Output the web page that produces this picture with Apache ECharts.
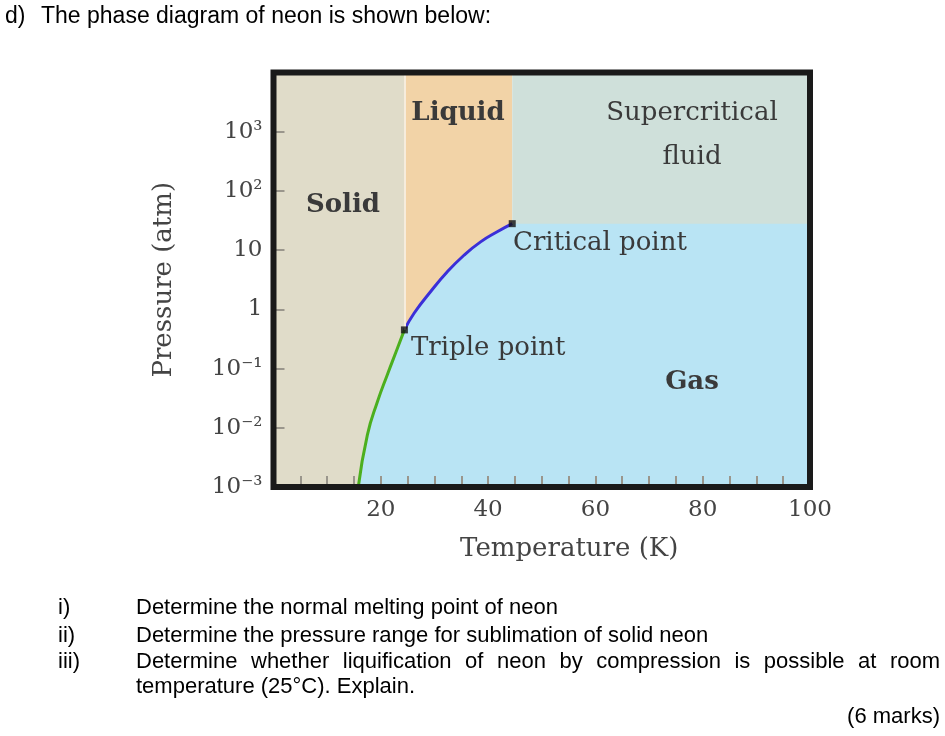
<!DOCTYPE html>
<html><head><meta charset="utf-8">
<script src="https://cdn.jsdelivr.net/npm/echarts@6/dist/echarts.min.js"></script>
<style>html,body{margin:0;padding:0;background:#fff}#c{width:945px;height:736px}</style>
</head><body><div id="c"></div>
<script>
// Phase boundaries of neon (T in K, P in atm)
const sublimationCurve = [[15.8,0.001],[17.5,0.0076],[19.4,0.028],[21.2,0.078],[23.1,0.22],[24.4,0.45]];
const vaporizationCurve = [[24.4,0.45],[26.2,0.86],[29.3,2.0],[32.4,4.3],[35.5,8.2],[38.6,13.8],[41.7,20.4],[44.5,28]];
const triplePoint = [24.4,0.45];
const criticalPoint = [44.5,28];
const tempRange = [0,100];
const pressureRange = [0.001,10000];
const xTickLabels = [20,40,60,80,100];
const yTickLabels = ['10\u207B\u00B3','10\u207B\u00B2','10\u207B\u00B9','1','10','10\u00B2','10\u00B3',''];

const gasBoundary = sublimationCurve.concat(vaporizationCurve.slice(1), [[tempRange[1], criticalPoint[1]]]);

const serif = "'DejaVu Serif', 'Liberation Serif', serif";
const sans = "'Liberation Sans', Arial, sans-serif";
const chart = echarts.init(document.getElementById('c'));

const G = {left:273.5, top:72.5, right:135, bottom:249};
const W = 945, H = 736;

// question text (justified line built word by word)
const qLines = [
  {num:'i)', text:'Determine the normal melting point of neon', y:609},
  {num:'ii)', text:'Determine the pressure range for sublimation of solid neon', y:637},
  {num:'iii)', text:'Determine whether liquification of neon by compression is possible at room', y:663, justify:true},
  {num:'', text:'temperature (25\u00B0C). Explain.', y:688}
];
const qFont = "22px " + sans;
const ctx = document.createElement('canvas').getContext('2d');
ctx.font = qFont;
const graphics = [];
graphics.push({type:'text', left:5, top:5, style:{text:'d)', font:"23px " + sans, fill:'#000'}});
graphics.push({type:'text', left:41, top:5, style:{text:'The phase diagram of neon is shown below:', font:"23px " + sans, fill:'#000'}});
qLines.forEach(function(l){
  if (l.num) graphics.push({type:'text', left:58, top:l.y-12, style:{text:l.num, font:qFont, fill:'#000'}});
  if (l.justify) {
    const words = l.text.split(' ');
    const widths = words.map(w => ctx.measureText(w).width);
    const total = widths.reduce((a,b)=>a+b,0);
    const gap = (940 - 136 - total) / (words.length - 1);
    let x = 136;
    words.forEach(function(w,i){
      graphics.push({type:'text', left:x, top:l.y-12, style:{text:w, font:qFont, fill:'#000'}});
      x += widths[i] + gap;
    });
  } else {
    graphics.push({type:'text', left:136, top:l.y-12, style:{text:l.text, font:qFont, fill:'#000'}});
  }
});
graphics.push({type:'text', right:5, top:706, style:{text:'(6 marks)', font:qFont, fill:'#000'}});

// plot frame drawn above the axes
graphics.push({type:'rect', z:200, silent:true,
  shape:{x:G.left, y:G.top, width:W-G.left-G.right, height:H-G.top-G.bottom},
  style:{fill:'none', stroke:'#1a1a1a', lineWidth:6}});

// region labels
function lab(text, x, y, bold, align) {
  graphics.push({type:'text', x:x, y:y, z:100, style:{text:text, font:(bold?'bold ':'') + '26px ' + serif, fill:'#3a3a3a', align:align||'center', verticalAlign:'middle'}});
}
lab('Solid', 343, 205, true);
lab('Liquid', 458, 113, true);
lab('Supercritical', 692, 113, false);
lab('fluid', 692, 157, false);
lab('Critical point', 513, 243, false, 'left');
lab('Triple point', 411, 348, false, 'left');
lab('Gas', 692, 382, true);

chart.setOption({
  animation:false,
  backgroundColor:'#fff',
  grid:{left:G.left, right:G.right, top:G.top, bottom:G.bottom, show:false},
  xAxis:{type:'value', min:tempRange[0], max:tempRange[1], interval:5, z:20,
    axisLine:{show:false}, splitLine:{show:false},
    axisTick:{show:true, inside:true, length:11, lineStyle:{color:'#9a968c', width:2}},
    axisLabel:{margin:12, color:'#444', fontFamily:serif, fontSize:23,
      formatter:function(v){ return xTickLabels.indexOf(v) >= 0 ? String(v) : ''; }},
    name:'Temperature (K)', nameLocation:'middle', nameGap:49,
    nameTextStyle:{color:'#444', fontFamily:serif, fontSize:26, padding:[0,0,0,55]}
  },
  yAxis:{type:'log', logBase:10, min:pressureRange[0], max:pressureRange[1], splitNumber:7, z:20,
    axisLine:{show:false}, splitLine:{show:false},
    axisTick:{show:true, inside:true, length:11, lineStyle:{color:'#9a968c', width:2}},
    axisLabel:{margin:11, color:'#444', fontFamily:serif, fontSize:23,
      formatter:function(v){ const e = Math.round(Math.log10(v)); return yTickLabels[e+3] || ''; }},
    name:'Pressure (atm)', nameLocation:'middle', nameGap:86, nameRotate:90,
    nameTextStyle:{color:'#444', fontFamily:serif, fontSize:26, padding:[0,0,10,0]}
  },
  graphic:graphics,
  series:[
    {type:'line', data:[], z:1, markArea:{silent:true, data:[
      [{xAxis:tempRange[0], yAxis:pressureRange[0], itemStyle:{color:'#e0dcc9'}},{xAxis:triplePoint[0], yAxis:pressureRange[1]}],
      [{xAxis:triplePoint[0], yAxis:pressureRange[0], itemStyle:{color:'#f2d3a7'}},{xAxis:criticalPoint[0], yAxis:pressureRange[1]}],
      [{xAxis:criticalPoint[0], yAxis:pressureRange[0], itemStyle:{color:'#cfe0da'}},{xAxis:tempRange[1], yAxis:pressureRange[1]}]
    ]}, markLine:{silent:true, symbol:'none', label:{show:false}, lineStyle:{color:'#f6ecdc', width:2, type:'solid'},
      data:[[{coord:[triplePoint[0], triplePoint[1]]},{coord:[triplePoint[0], pressureRange[1]]}]]}},
    {type:'line', data:gasBoundary, z:2, showSymbol:false, lineStyle:{width:0, opacity:0},
      areaStyle:{color:'#b9e4f4', opacity:1, origin:'start'}},
    {type:'line', data:sublimationCurve, z:3, showSymbol:false, smooth:true, lineStyle:{color:'#4caf1e', width:3}},
    {type:'line', data:vaporizationCurve, z:3, showSymbol:false, smooth:true, lineStyle:{color:'#3b2fd8', width:3}},
    {type:'scatter', data:[triplePoint, criticalPoint], z:6, symbol:'rect', symbolSize:7, itemStyle:{color:'#111'}}
  ]
});
</script></body></html>
